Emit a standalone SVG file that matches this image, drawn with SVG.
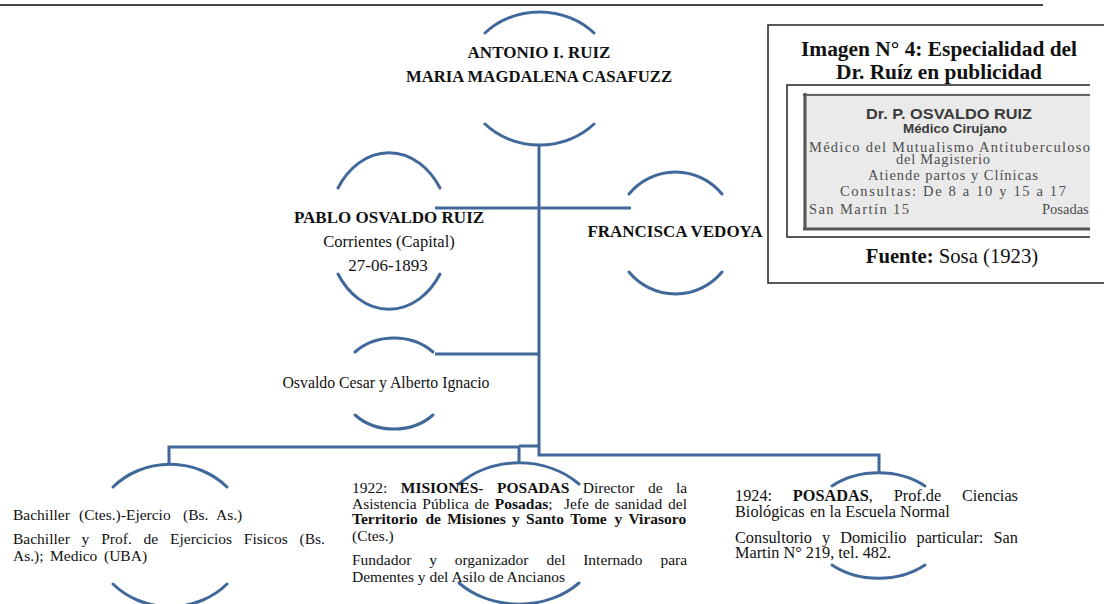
<svg xmlns="http://www.w3.org/2000/svg" width="1104" height="604" viewBox="0 0 1104 604">
<style>
.arc{fill:none;stroke:#41689B;stroke-width:3;stroke-linecap:round}
.con{fill:none;stroke:#41689B;stroke-width:3}
.tx{font-family:'Liberation Serif','Times New Roman',serif;fill:#111}
.b{font-weight:bold}
.c{text-anchor:middle}
.s17{font-size:17px}
.s16{font-size:16.5px}
.sL{font-size:15.5px}
.sM{font-size:15.5px}
.sR{font-size:16.3px}
.clip{font-family:'Liberation Serif','Times New Roman',serif;fill:#4d4d4d;font-size:14.5px}
.clips{font-family:'Liberation Sans',Arial,sans-serif;fill:#3a3a3a;font-weight:bold}
</style>
<rect width="1104" height="604" fill="#fff"/>
<line x1="0" y1="5" x2="1043" y2="5" stroke="#444" stroke-width="2"/>

<g id="connectors">
<path class="con" d="M539,144 V455 H879 V473"/>
<path class="con" d="M435,208 H631"/>
<path class="con" d="M435,354 H539"/>
<path class="con" d="M169,464 V447 H519 V463 M519,446 H539"/>
</g>

<g font-family="Liberation Serif, Times New Roman, serif">
<g id="node-antonio">
<path class="arc" d="M485,33 A74.7,66.5 0 0 1 594,33"/>
<path class="arc" d="M485,124 A74.7,66.5 0 0 0 594,124"/>
<text class="tx b s17 c" x="539" y="58">ANTONIO I. RUIZ</text>
<text class="tx b c" x="539" y="82" font-size="16.7">MARIA MAGDALENA CASAFUZZ</text>
</g>

<g id="node-pablo">
<path class="arc" d="M338,188 A61,78 0 0 1 440,188"/>
<path class="arc" d="M338,274 A61,78 0 0 0 440,274"/>
<text class="tx b s17 c" x="389" y="223">PABLO OSVALDO RUIZ</text>
<text class="tx s16 c" x="389" y="247">Corrientes (Capital)</text>
<text class="tx c" x="388" y="271" font-size="17">27-06-1893</text>
</g>

<g id="node-francisca">
<path class="arc" d="M629,194 A60.5,61 0 0 1 722,194"/>
<path class="arc" d="M629,272 A60.5,61 0 0 0 722,272"/>
<text class="tx b s17 c" x="675" y="237">FRANCISCA VEDOYA</text>
</g>

<g id="node-hijos">
<path class="arc" d="M355,352 A54,45.5 0 0 1 433,352"/>
<path class="arc" d="M355,415 A54,45.5 0 0 0 433,415"/>
<text class="tx c" x="386" y="388" font-size="15.8">Osvaldo Cesar y Alberto Ignacio</text>
</g>

<g id="node-estudios">
<path class="arc" d="M113,487 A78,71.5 0 0 1 227,487"/>
<path class="arc" d="M113,584 A78,71.5 0 0 0 227,584"/>
<text class="tx sL" y="520"><tspan x="13">Bachiller</tspan><tspan x="79">(Ctes.)-Ejercio</tspan><tspan x="183">(Bs.</tspan><tspan x="216">As.)</tspan></text>
<text class="tx sL" y="544"><tspan x="13">Bachiller</tspan><tspan x="81.6">y</tspan><tspan x="101.2">Prof.</tspan><tspan x="143.6">de</tspan><tspan x="170">Ejercicios</tspan><tspan x="243.8">Fisicos</tspan><tspan x="299.5">(Bs.</tspan></text>
<text class="tx sL" y="561"><tspan x="13">As.);</tspan><tspan x="50">Medico</tspan><tspan x="104">(UBA)</tspan></text>
</g>

<g id="node-1922">
<path class="arc" d="M459,484 A84,70.5 0 0 1 579,484"/>
<path class="arc" d="M459,583 A84,70.5 0 0 0 579,583"/>
<text class="tx sM" y="493"><tspan x="352">1922:</tspan><tspan x="400.8" class="b">MISIONES-</tspan><tspan x="497" class="b">POSADAS</tspan><tspan x="582.8">Director</tspan><tspan x="647.9">de</tspan><tspan x="676">la</tspan></text>
<text class="tx sM" y="509"><tspan x="352">Asistencia</tspan><tspan x="422.3">Pública</tspan><tspan x="474.5">de</tspan><tspan x="494.8" class="b">Posadas</tspan><tspan>;</tspan><tspan x="563.9">Jefe</tspan><tspan x="594.6">de</tspan><tspan x="614.9">sanidad</tspan><tspan x="668">del</tspan></text>
<text class="tx sM b" y="524"><tspan x="352">Territorio</tspan><tspan x="425.4">de</tspan><tspan x="447.2">Misiones</tspan><tspan x="512.1">y</tspan><tspan x="526.1">Santo</tspan><tspan x="570.3">Tome</tspan><tspan x="614.5">y</tspan><tspan x="628.5">Virasoro</tspan></text>
<text class="tx sM" x="352" y="541">(Ctes.)</text>
<text class="tx sM" y="565"><tspan x="352">Fundador</tspan><tspan x="429.2">y</tspan><tspan x="454.7">organizador</tspan><tspan x="546.5">del</tspan><tspan x="583.2">Internado</tspan><tspan x="660.4">para</tspan></text>
<text class="tx sM" x="352" y="582">Dementes y del Asilo de Ancianos</text>
</g>

<g id="node-1924">
<path class="arc" d="M832,486 A70,52.5 0 0 1 925,486"/>
<path class="arc" d="M832,565 A70,52.5 0 0 0 925,565"/>
<text class="tx sR" y="501"><tspan x="735">1924:</tspan><tspan x="792.8" class="b">POSADAS</tspan><tspan>,</tspan><tspan x="893.7">Prof.de</tspan><tspan x="961.9">Ciencias</tspan></text>
<text class="tx sR" y="517"><tspan x="735">Biológicas</tspan><tspan x="810">en la Escuela Normal</tspan></text>
<text class="tx sR" y="543"><tspan x="735">Consultorio</tspan><tspan x="822.1">y</tspan><tspan x="840.3">Domicilio</tspan><tspan x="916.5">particular:</tspan><tspan x="993.5">San</tspan></text>
<text class="tx sR" x="735" y="558">Martin N° 219, tel. 482.</text>
</g>

<g id="imagen-box">
<rect x="768" y="25" width="360" height="258" fill="none" stroke="#222" stroke-width="1.5"/>
<text class="tx b c" x="939" y="56" font-size="21.4">Imagen N° 4: Especialidad del</text>
<text class="tx b c" x="939" y="79" font-size="21.4">Dr. Ruíz en publicidad</text>
<path d="M1090,85 H787 V237 H1090" fill="none" stroke="#222" stroke-width="1.5"/>
<rect x="803" y="93" width="287" height="137" fill="#eaeaea"/>
<line x1="803" y1="95" x2="1090" y2="95" stroke="#666" stroke-width="2"/>
<line x1="805" y1="93" x2="805" y2="230" stroke="#555" stroke-width="3"/>
<line x1="803" y1="229" x2="1090" y2="229" stroke="#555" stroke-width="3"/>
<text class="clips" x="866" y="119" font-size="15" textLength="166" lengthAdjust="spacingAndGlyphs">Dr. P. OSVALDO RUIZ</text>
<text class="clips" x="903" y="133" font-size="12" textLength="104" lengthAdjust="spacingAndGlyphs">Médico Cirujano</text>
<text class="clip" x="809" y="152" textLength="281" lengthAdjust="spacing">Médico del Mutualismo Antituberculoso</text>
<text class="clip" x="896" y="164" textLength="94" lengthAdjust="spacing">del Magisterio</text>
<text class="clip" x="868" y="180" textLength="170" lengthAdjust="spacing">Atiende partos y Clínicas</text>
<text class="clip" x="840" y="196" textLength="226" lengthAdjust="spacing">Consultas: De 8 a 10 y 15 a 17</text>
<text class="clip" x="809" y="214" textLength="100" lengthAdjust="spacing">San Martín 15</text>
<text class="clip" x="1042" y="214">Posadas</text>
<text class="tx c" x="952" y="263" font-size="20.7"><tspan class="b">Fuente:</tspan> Sosa (1923)</text>
</g>
</g>
</svg>
